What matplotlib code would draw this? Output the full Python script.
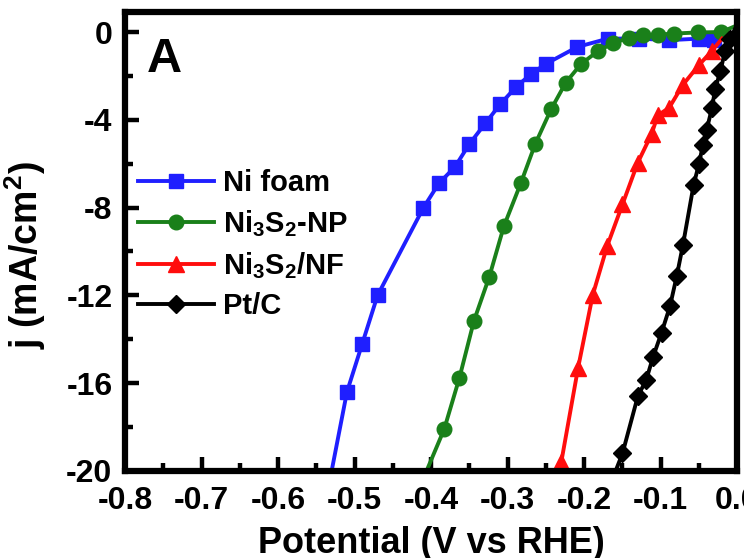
import matplotlib.pyplot as plt
from matplotlib.ticker import MultipleLocator

plt.rcParams['font.family'] = ['Liberation Sans', 'DejaVu Sans']
plt.rcParams['font.weight'] = 'bold'
plt.rcParams['axes.unicode_minus'] = False
plt.rcParams['mathtext.fontset'] = 'custom'
plt.rcParams['mathtext.rm'] = 'Liberation Sans:bold'
plt.rcParams['mathtext.bf'] = 'Liberation Sans:bold'
plt.rcParams['mathtext.default'] = 'bf'

# Ni foam
v_nif = [-0.530, -0.510, -0.490, -0.470, -0.410, -0.390, -0.369, -0.350, -0.329, -0.310,
         -0.289, -0.269, -0.250, -0.209, -0.169, -0.129, -0.089, -0.050, -0.030]
j_nif = [-20.0, -16.4, -14.2, -12.0, -8.0, -6.9, -6.15, -5.1, -4.15, -3.3,
         -2.5, -1.9, -1.45, -0.68, -0.3, -0.3, -0.37, -0.3, -0.35]

# Ni3S2-NP
v_np = [-0.406, -0.383, -0.363, -0.344, -0.324, -0.305, -0.283, -0.264, -0.243, -0.224,
        -0.204, -0.182, -0.162, -0.142, -0.123, -0.103, -0.083, -0.052, -0.021, -0.004]
j_np = [-20.0, -18.1, -15.75, -13.15, -11.15, -8.85, -6.9, -5.1, -3.5, -2.3,
        -1.45, -0.87, -0.5, -0.27, -0.15, -0.12, -0.07, -0.02, 0.0, 0.25]

# Ni3S2/NF
v_nf = [-0.230, -0.208, -0.189, -0.170, -0.150, -0.130, -0.112, -0.104, -0.089, -0.071,
        -0.050, -0.033, -0.020]
j_nf = [-19.6, -15.3, -12.0, -9.75, -7.85, -5.95, -4.65, -3.8, -3.45, -2.4,
        -1.5, -0.85, -0.3]

# Pt/C
v_pt = [-0.159, -0.150, -0.130, -0.119, -0.110, -0.099, -0.088, -0.079, -0.071, -0.057,
        -0.050, -0.045, -0.040, -0.033, -0.029, -0.022, -0.016, -0.009, -0.003]
j_pt = [-20.0, -19.2, -16.6, -15.85, -14.8, -13.7, -12.5, -11.1, -9.7, -6.95,
        -6.0, -5.15, -4.45, -3.45, -2.6, -1.78, -0.85, -0.3, 0.15]

fig = plt.figure(figsize=(7.44, 5.58), dpi=100)
ax = fig.add_axes([0.168, 0.156, 0.823, 0.822])

ax.plot(v_nif, j_nif, color='#1f1fff', marker='s', ms=10, lw=2.8,
        markevery=list(range(1, len(v_nif))), label='Ni foam')
ax.plot(v_np, j_np, color='#1a801a', marker='o', ms=10.5, lw=2.8,
        markevery=list(range(1, len(v_np) - 1)), label='Ni$_3$S$_2$-NP')
ax.plot(v_nf, j_nf, color='#ff0d0d', marker='^', ms=12, lw=2.8,
        markevery=list(range(0, len(v_nf) - 1)), label='Ni$_3$S$_2$/NF')
ax.plot(v_pt, j_pt, color='black', marker='D', ms=9, lw=2.8,
        markevery=list(range(1, len(v_pt) - 1)), label='Pt/C')

ax.set_xlim(-0.8, 0.0)
ax.set_ylim(-20, 0.9)
ax.xaxis.set_major_locator(MultipleLocator(0.1))
ax.xaxis.set_minor_locator(MultipleLocator(0.05))
ax.yaxis.set_major_locator(MultipleLocator(4))
ax.yaxis.set_minor_locator(MultipleLocator(2))
ax.xaxis.set_major_formatter(plt.FuncFormatter(lambda x, p: f'{x:.1f}'))
ax.tick_params(which='major', direction='in', length=10, width=3.2, labelsize=23)
ax.tick_params(axis='x', which='major', pad=11)
ax.tick_params(axis='y', which='major', pad=9)
ax.tick_params(which='minor', direction='in', length=6, width=3.2)
for s in ax.spines.values():
    s.set_linewidth(4.5)

ax.set_xlabel('Potential (V vs RHE)', fontsize=26, fontweight='bold')
ax.xaxis.set_label_coords(0.5, -0.12)
ax.set_ylabel('j (mA/cm$^2$)', fontsize=27, fontweight='bold')
ax.yaxis.set_label_coords(-0.125, 0.47)

ax.text(0.035, 0.898, 'A', transform=ax.transAxes, fontsize=35, fontweight='bold',
        va='center', ha='left')

ax.legend(loc='upper left', bbox_to_anchor=(0.003, 0.683), frameon=False, fontsize=21,
          handlelength=2.6, handletextpad=0.3, labelspacing=0.38, borderaxespad=0)

fig.savefig('out.png', dpi=100)
